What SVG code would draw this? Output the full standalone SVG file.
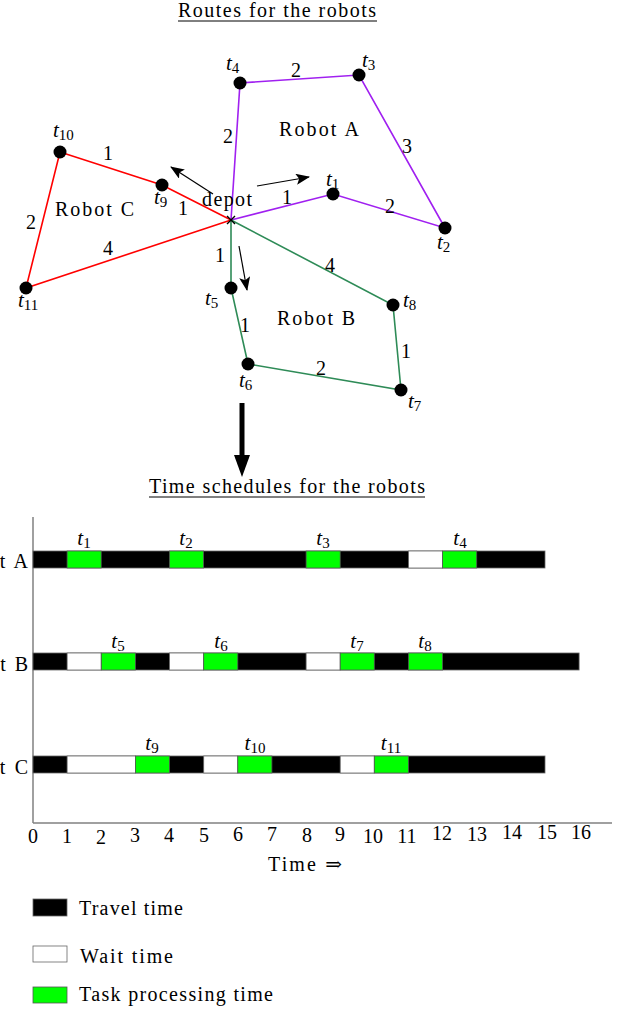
<svg xmlns="http://www.w3.org/2000/svg" width="634" height="1010" viewBox="0 0 634 1010">
<style>
text{font-family:"Liberation Serif","DejaVu Serif",serif;font-size:20px;fill:#000}
.i{font-style:italic;font-size:21px}
.sub{font-size:15px}
.ea{stroke:#a020f0;stroke-width:1.6;fill:none}
.eb{stroke:#2e8b57;stroke-width:1.6;fill:none}
.ec{stroke:#ff0000;stroke-width:1.6;fill:none}
.dot{fill:#000}
.arr{stroke:#000;stroke-width:1.2;fill:none;marker-end:url(#ah)}
.ax{stroke:#808080;stroke-width:1.5;fill:none}
.k{fill:#000;stroke:#666;stroke-width:0.8}
.w{fill:#fff;stroke:#666;stroke-width:0.8}
.g{fill:#00ff00;stroke:#555;stroke-width:0.8}
</style>
<defs>
<marker id="ah" markerWidth="14" markerHeight="11" refX="13" refY="5.5" orient="auto" markerUnits="userSpaceOnUse">
<path d="M0,0 L14,5.5 L0,11 L3,5.5 Z" fill="#000"/>
</marker>
</defs>

<!-- Titles -->
<g id="title-routes">
<text x="277" y="17" text-anchor="middle" textLength="198">Routes for the robots</text>
<line x1="178" y1="21" x2="377" y2="21" stroke="#000" stroke-width="1"/>
</g>
<g id="title-schedules">
<text x="287" y="493" text-anchor="middle" textLength="276">Time schedules for the robots</text>
<line x1="149" y1="497" x2="425" y2="497" stroke="#000" stroke-width="1"/>
</g>

<!-- Connectors -->
<g id="connectors">
<polyline class="ea" points="231,220 333,194 445,228 359,75 240,83 231,220"/>
<polyline class="eb" points="231,220 231,288 248,364 401,390 393,305 231,220"/>
<polyline class="ec" points="231,220 162,185 60,152 26,288 231,220"/>
<line class="arr" x1="213" y1="194" x2="171" y2="167"/>
<line class="arr" x1="257" y1="186" x2="309" y2="177"/>
<line class="arr" x1="239" y1="246" x2="247" y2="290"/>
<line x1="242" y1="403" x2="242" y2="458" stroke="#000" stroke-width="5"/>
<path d="M234,455 L242,477 L250,455 Z" fill="#000"/>
<!-- edge labels -->
<text x="296" y="77" text-anchor="middle">2</text>
<text x="407" y="153" text-anchor="middle">3</text>
<text x="390" y="213" text-anchor="middle">2</text>
<text x="287" y="204" text-anchor="middle">1</text>
<text x="228" y="143" text-anchor="middle">2</text>
<text x="220" y="262" text-anchor="middle">1</text>
<text x="245" y="332" text-anchor="middle">1</text>
<text x="321" y="375" text-anchor="middle">2</text>
<text x="406" y="358" text-anchor="middle">1</text>
<text x="330" y="272" text-anchor="middle">4</text>
<text x="183" y="215" text-anchor="middle">1</text>
<text x="108" y="160" text-anchor="middle">1</text>
<text x="31" y="229" text-anchor="middle">2</text>
<text x="108" y="255" text-anchor="middle">4</text>
</g>

<!-- Nodes -->
<g id="depot">
<path d="M227,216 L235,224 M235,216 L227,224" stroke="#000" stroke-width="1.4"/>
<text x="202" y="206" textLength="50">depot</text>
</g>
<g id="t1"><circle class="dot" cx="333" cy="194" r="6.5"/><text x="326" y="186"><tspan class="i">t</tspan><tspan class="sub" dy="3">1</tspan></text></g>
<g id="t2"><circle class="dot" cx="445" cy="228" r="6.5"/><text x="437" y="249"><tspan class="i">t</tspan><tspan class="sub" dy="3">2</tspan></text></g>
<g id="t3"><circle class="dot" cx="359" cy="75" r="6.5"/><text x="362" y="67"><tspan class="i">t</tspan><tspan class="sub" dy="3">3</tspan></text></g>
<g id="t4"><circle class="dot" cx="240" cy="83" r="6.5"/><text x="226" y="70"><tspan class="i">t</tspan><tspan class="sub" dy="3">4</tspan></text></g>
<g id="t5"><circle class="dot" cx="231" cy="288" r="6.5"/><text x="205" y="305"><tspan class="i">t</tspan><tspan class="sub" dy="3">5</tspan></text></g>
<g id="t6"><circle class="dot" cx="248" cy="364" r="6.5"/><text x="239" y="387"><tspan class="i">t</tspan><tspan class="sub" dy="3">6</tspan></text></g>
<g id="t7"><circle class="dot" cx="401" cy="390" r="6.5"/><text x="408" y="408"><tspan class="i">t</tspan><tspan class="sub" dy="3">7</tspan></text></g>
<g id="t8"><circle class="dot" cx="393" cy="305" r="6.5"/><text x="403" y="307"><tspan class="i">t</tspan><tspan class="sub" dy="3">8</tspan></text></g>
<g id="t9"><circle class="dot" cx="162" cy="185" r="6.5"/><text x="154" y="204"><tspan class="i">t</tspan><tspan class="sub" dy="3">9</tspan></text></g>
<g id="t10"><circle class="dot" cx="60" cy="152" r="6.5"/><text x="53" y="137"><tspan class="i">t</tspan><tspan class="sub" dy="3">10</tspan></text></g>
<g id="t11"><circle class="dot" cx="26" cy="288" r="6.5"/><text x="18" y="307"><tspan class="i">t</tspan><tspan class="sub" dy="3">11</tspan></text></g>
<g id="robot-labels">
<text x="279" y="136" textLength="80">Robot A</text>
<text x="277" y="325" textLength="78">Robot B</text>
<text x="55" y="216" textLength="79">Robot C</text>
</g>

<!-- Schedule -->
<g id="axes">
<line class="ax" x1="33" y1="517" x2="33" y2="823"/>
<line class="ax" x1="33" y1="823" x2="612" y2="823"/>
<g text-anchor="middle">
<text x="33" y="843">0</text><text x="67" y="843">1</text><text x="101" y="844">2</text><text x="135" y="842">3</text>
<text x="169" y="842">4</text><text x="204" y="842">5</text><text x="238" y="841">6</text><text x="272" y="841">7</text>
<text x="307" y="842">8</text><text x="340" y="841">9</text><text x="373" y="843">10</text><text x="407" y="843">11</text>
<text x="442" y="840">12</text><text x="477" y="841">13</text><text x="512" y="839">14</text><text x="547" y="839">15</text>
<text x="581" y="839">16</text>
</g>
<text x="305" y="871" text-anchor="middle" textLength="74">Time ⇒</text>
</g>

<g id="row-A">
<text x="-52" y="568" textLength="80">Robot A</text>
<rect class="k" x="33" y="551" width="512" height="17"/>
<rect class="g" x="67.1" y="551" width="34.1" height="17"/>
<rect class="g" x="169.5" y="551" width="34.1" height="17"/>
<rect class="g" x="306.1" y="551" width="34.1" height="17"/>
<rect class="w" x="408.5" y="551" width="34.1" height="17"/>
<rect class="g" x="442.6" y="551" width="34.1" height="17"/>
<g text-anchor="middle">
<text x="84" y="545"><tspan class="i">t</tspan><tspan class="sub" dy="3">1</tspan></text>
<text x="186" y="545"><tspan class="i">t</tspan><tspan class="sub" dy="3">2</tspan></text>
<text x="323" y="545"><tspan class="i">t</tspan><tspan class="sub" dy="3">3</tspan></text>
<text x="460" y="545"><tspan class="i">t</tspan><tspan class="sub" dy="3">4</tspan></text>
</g>
</g>

<g id="row-B">
<text x="-51" y="671" textLength="79">Robot B</text>
<rect class="k" x="33" y="653" width="546.1" height="17"/>
<rect class="w" x="67.1" y="653" width="34.1" height="17"/>
<rect class="g" x="101.3" y="653" width="34.1" height="17"/>
<rect class="w" x="169.5" y="653" width="34.1" height="17"/>
<rect class="g" x="203.7" y="653" width="34.1" height="17"/>
<rect class="w" x="306.1" y="653" width="34.1" height="17"/>
<rect class="g" x="340.2" y="653" width="34.1" height="17"/>
<rect class="g" x="408.5" y="653" width="34.1" height="17"/>
<g text-anchor="middle">
<text x="118" y="648"><tspan class="i">t</tspan><tspan class="sub" dy="3">5</tspan></text>
<text x="221" y="648"><tspan class="i">t</tspan><tspan class="sub" dy="3">6</tspan></text>
<text x="357" y="648"><tspan class="i">t</tspan><tspan class="sub" dy="3">7</tspan></text>
<text x="425" y="648"><tspan class="i">t</tspan><tspan class="sub" dy="3">8</tspan></text>
</g>
</g>

<g id="row-C">
<text x="-52" y="774" textLength="80">Robot C</text>
<rect class="k" x="33" y="756" width="512" height="17"/>
<rect class="w" x="67.1" y="756" width="68.3" height="17"/>
<rect class="g" x="135.4" y="756" width="34.1" height="17"/>
<rect class="w" x="203.7" y="756" width="34.1" height="17"/>
<rect class="g" x="237.8" y="756" width="34.1" height="17"/>
<rect class="w" x="340.2" y="756" width="34.1" height="17"/>
<rect class="g" x="374.3" y="756" width="34.1" height="17"/>
<g text-anchor="middle">
<text x="152" y="750"><tspan class="i">t</tspan><tspan class="sub" dy="3">9</tspan></text>
<text x="255" y="750"><tspan class="i">t</tspan><tspan class="sub" dy="3">10</tspan></text>
<text x="391" y="750"><tspan class="i">t</tspan><tspan class="sub" dy="3">11</tspan></text>
</g>
</g>

<g id="legend">
<rect class="k" x="33" y="899" width="34" height="17"/>
<text x="79" y="915" textLength="104">Travel time</text>
<rect class="w" x="33" y="946" width="34" height="16"/>
<text x="80" y="963" textLength="93">Wait time</text>
<rect class="g" x="33" y="987" width="34" height="16"/>
<text x="79" y="1001" textLength="194">Task processing time</text>
</g>
</svg>
